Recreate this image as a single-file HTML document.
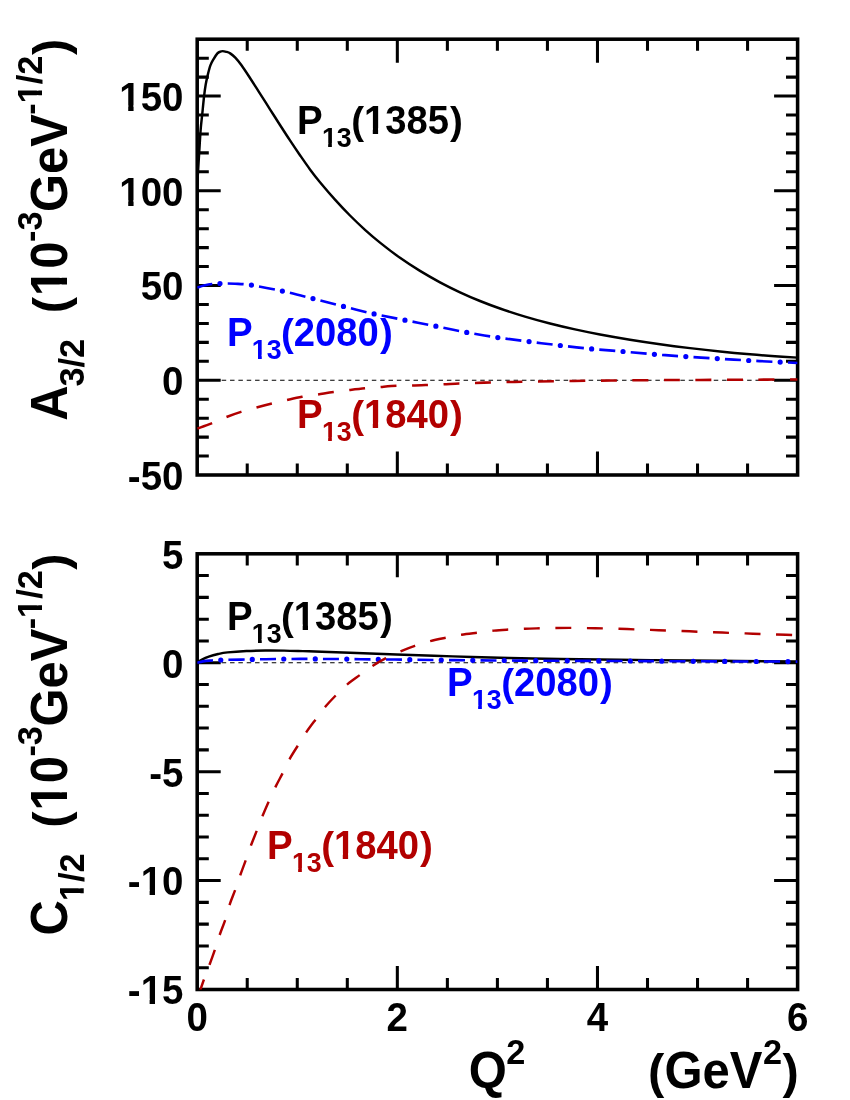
<!DOCTYPE html>
<html lang="en"><head><meta charset="utf-8"><title>Helicity amplitudes</title>
<style>html,body{margin:0;padding:0;background:#fff}svg{display:block;will-change:transform}text{font-family:"Liberation Sans",sans-serif;font-weight:bold}</style></head><body>
<svg width="850" height="1100" viewBox="0 0 850 1100">
<rect width="850" height="1100" fill="#fff"/>
<defs>
<clipPath id="cu"><rect x="197.2" y="39.2" width="600.4" height="435.8"/></clipPath>
<clipPath id="cl"><rect x="197.2" y="553.8" width="600.4" height="435.7"/></clipPath>
<clipPath id="c1"><path d="M-60,-800H620V-142H371.6V10H232.4V-142H-60Z"/></clipPath>
</defs>
<!-- upper panel -->
<g stroke="#000" fill="none">
<path d="M247.23,475V463.4M247.23,39.2V50.8M297.27,475V463.4M297.27,39.2V50.8M347.3,475V463.4M347.3,39.2V50.8M397.33,475V451.5M397.33,39.2V62.7M447.37,475V463.4M447.37,39.2V50.8M497.4,475V463.4M497.4,39.2V50.8M547.43,475V463.4M547.43,39.2V50.8M597.47,475V451.5M597.47,39.2V62.7M647.5,475V463.4M647.5,39.2V50.8M697.53,475V463.4M697.53,39.2V50.8M747.57,475V463.4M747.57,39.2V50.8M197.2,456.05H208.8M797.6,456.05H786M197.2,437.1H208.8M797.6,437.1H786M197.2,418.16H208.8M797.6,418.16H786M197.2,399.21H208.8M797.6,399.21H786M197.2,380.26H220.7M797.6,380.26H774.1M197.2,361.31H208.8M797.6,361.31H786M197.2,342.37H208.8M797.6,342.37H786M197.2,323.42H208.8M797.6,323.42H786M197.2,304.47H208.8M797.6,304.47H786M197.2,285.52H220.7M797.6,285.52H774.1M197.2,266.57H208.8M797.6,266.57H786M197.2,247.63H208.8M797.6,247.63H786M197.2,228.68H208.8M797.6,228.68H786M197.2,209.73H208.8M797.6,209.73H786M197.2,190.78H220.7M797.6,190.78H774.1M197.2,171.83H208.8M797.6,171.83H786M197.2,152.89H208.8M797.6,152.89H786M197.2,133.94H208.8M797.6,133.94H786M197.2,114.99H208.8M797.6,114.99H786M197.2,96.04H220.7M797.6,96.04H774.1M197.2,77.1H208.8M797.6,77.1H786M197.2,58.15H208.8M797.6,58.15H786" stroke-width="3.05"/>
<rect x="197.2" y="39.2" width="600.4" height="435.8" stroke-width="3.55"/>
</g>
<path d="M221.7,380.26H797.6" stroke="#000" stroke-width="1.15" stroke-dasharray="4.5 3.84" fill="none"/>
<g clip-path="url(#cu)" fill="none" stroke-linejoin="round">
<path d="M197.2,185C197.37,182.33 197.85,174.68 198.2,169C198.55,163.32 198.88,157.55 199.3,150.9C199.72,144.25 200.22,135.17 200.7,129.1C201.18,123.03 201.63,120.02 202.2,114.5C202.77,108.98 203.52,101 204.1,96C204.68,91 205.12,87.9 205.7,84.5C206.28,81.1 206.82,78.78 207.6,75.6C208.38,72.42 209.4,68.15 210.4,65.4C211.4,62.65 212.43,61.1 213.6,59.1C214.77,57.1 216.33,54.62 217.4,53.4C218.47,52.18 219.15,52.18 220,51.8C220.85,51.42 221.45,51.1 222.5,51.1C223.55,51.1 225.02,51.42 226.3,51.8C227.58,52.18 228.7,52.43 230.2,53.4C231.7,54.37 233.42,55.62 235.3,57.6C237.18,59.58 239.05,61.9 241.5,65.3C243.95,68.7 246.92,73.28 250,78C253.08,82.72 256.67,88.38 260,93.6C263.33,98.82 266.67,104.07 270,109.3C273.33,114.53 276.67,119.82 280,125C283.33,130.18 286.67,135.37 290,140.4C293.33,145.43 296.67,150.37 300,155.2C303.33,160.03 306.67,164.9 310,169.4C313.33,173.9 315.83,177.17 320,182.2C324.17,187.23 330,194.05 335,199.6C340,205.15 345,210.47 350,215.5C355,220.53 360,225.28 365,229.8C370,234.32 374.17,237.93 380,242.6C385.83,247.27 393.33,253.08 400,257.8C406.67,262.52 413.33,266.82 420,270.9C426.67,274.98 433.33,278.73 440,282.3C446.67,285.87 453.33,289.18 460,292.3C466.67,295.42 473.33,298.3 480,301C486.67,303.7 492.5,305.9 500,308.5C507.5,311.1 516.67,314.1 525,316.6C533.33,319.1 541.67,321.37 550,323.5C558.33,325.63 566.67,327.57 575,329.4C583.33,331.23 590.83,332.78 600,334.5C609.17,336.22 620,338.08 630,339.7C640,341.32 650,342.8 660,344.2C670,345.6 680,346.88 690,348.1C700,349.32 710,350.47 720,351.5C730,352.53 740.83,353.52 750,354.3C759.17,355.08 767.07,355.65 775,356.2C782.93,356.75 793.83,357.37 797.6,357.6" stroke="#000" stroke-width="2.45"/>
<path d="M197.2,287.6C198.33,287.27 201.55,286.2 204,285.6C206.45,285 209.28,284.35 211.9,284C214.52,283.65 215.85,283.55 219.7,283.5C223.55,283.45 229.73,283.43 235,283.7C240.27,283.97 243.42,283.87 251.3,285.1C259.18,286.33 272.05,288.87 282.3,291.1C292.55,293.33 302.63,295.95 312.8,298.5C322.97,301.05 333.1,303.83 343.3,306.4C353.5,308.97 363.75,311.62 374,313.9C384.25,316.18 394.55,318.07 404.8,320.1C415.05,322.13 425.22,324.05 435.5,326.1C445.78,328.15 456.15,330.5 466.5,332.4C476.85,334.3 487.2,335.97 497.6,337.5C508,339.03 518.45,340.27 528.9,341.6C539.35,342.93 549.88,344.28 560.3,345.5C570.72,346.72 580.97,347.9 591.4,348.9C601.83,349.9 612.43,350.6 622.9,351.5C633.37,352.4 643.77,353.45 654.2,354.3C664.63,355.15 675.02,355.88 685.5,356.6C695.98,357.32 706.62,357.95 717.1,358.6C727.58,359.25 737.93,359.92 748.4,360.5C758.87,361.08 771.7,361.68 779.9,362.1C788.1,362.52 794.65,362.85 797.6,363" stroke="#0000ff" stroke-width="2.6" stroke-dasharray="16 15.5" stroke-dashoffset="0.5"/>
<path d="M197.2,287.6C198.33,287.27 201.55,286.2 204,285.6C206.45,285 209.28,284.35 211.9,284C214.52,283.65 215.85,283.55 219.7,283.5C223.55,283.45 229.73,283.43 235,283.7C240.27,283.97 243.42,283.87 251.3,285.1C259.18,286.33 272.05,288.87 282.3,291.1C292.55,293.33 302.63,295.95 312.8,298.5C322.97,301.05 333.1,303.83 343.3,306.4C353.5,308.97 363.75,311.62 374,313.9C384.25,316.18 394.55,318.07 404.8,320.1C415.05,322.13 425.22,324.05 435.5,326.1C445.78,328.15 456.15,330.5 466.5,332.4C476.85,334.3 487.2,335.97 497.6,337.5C508,339.03 518.45,340.27 528.9,341.6C539.35,342.93 549.88,344.28 560.3,345.5C570.72,346.72 580.97,347.9 591.4,348.9C601.83,349.9 612.43,350.6 622.9,351.5C633.37,352.4 643.77,353.45 654.2,354.3C664.63,355.15 675.02,355.88 685.5,356.6C695.98,357.32 706.62,357.95 717.1,358.6C727.58,359.25 737.93,359.92 748.4,360.5C758.87,361.08 771.7,361.68 779.9,362.1C788.1,362.52 794.65,362.85 797.6,363" stroke="#0000ff" stroke-width="5.2" stroke-linecap="round" stroke-dasharray="0 31.5" stroke-dashoffset="-23.3"/>
<path d="M197.2,428.6C199.6,427.73 206.72,425.33 211.6,423.4C216.48,421.47 221.6,418.92 226.5,417C231.4,415.08 236.03,413.47 241,411.9C245.97,410.33 251.15,409 256.3,407.6C261.45,406.2 266.8,404.77 271.9,403.5C277,402.23 281.88,401.12 286.9,400C291.92,398.88 296.82,397.73 302,396.8C307.18,395.87 312.75,395.2 318,394.4C323.25,393.6 328.33,392.72 333.5,392C338.67,391.28 343.75,390.72 349,390.1C354.25,389.48 359.67,388.83 365,388.3C370.33,387.77 375.75,387.32 381,386.9C386.25,386.48 391.33,386.02 396.5,385.8C401.67,385.58 406.75,385.73 412,385.6C417.25,385.47 422.75,385.22 428,385C433.25,384.78 438.33,384.57 443.5,384.3C448.67,384.03 453.7,383.63 459,383.4C464.3,383.17 470.03,383.07 475.3,382.9C480.57,382.73 485.42,382.53 490.6,382.4C495.78,382.27 501.18,382.2 506.4,382.1C511.62,382 516.7,381.9 521.9,381.8C527.1,381.7 532.35,381.6 537.6,381.5C542.85,381.4 548.1,381.28 553.4,381.2C558.7,381.12 564.18,381.07 569.4,381C574.62,380.93 576.27,380.9 584.7,380.8C593.13,380.7 607.45,380.52 620,380.4C632.55,380.28 646.67,380.18 660,380.1C673.33,380.02 685,379.97 700,379.9C715,379.83 733.73,379.77 750,379.7C766.27,379.63 789.67,379.53 797.6,379.5" stroke="#b20000" stroke-width="2.55" stroke-dasharray="15.9 15.6" stroke-dashoffset="0"/>
</g>
<!-- lower panel -->
<g stroke="#000" fill="none">
<path d="M247.23,989.5V977.9M247.23,553.8V565.4M297.27,989.5V977.9M297.27,553.8V565.4M347.3,989.5V977.9M347.3,553.8V565.4M397.33,989.5V966M397.33,553.8V577.3M447.37,989.5V977.9M447.37,553.8V565.4M497.4,989.5V977.9M497.4,553.8V565.4M547.43,989.5V977.9M547.43,553.8V565.4M597.47,989.5V966M597.47,553.8V577.3M647.5,989.5V977.9M647.5,553.8V565.4M697.53,989.5V977.9M697.53,553.8V565.4M747.57,989.5V977.9M747.57,553.8V565.4M197.2,967.72H208.8M797.6,967.72H786M197.2,945.93H208.8M797.6,945.93H786M197.2,924.14H208.8M797.6,924.14H786M197.2,902.36H208.8M797.6,902.36H786M197.2,880.58H220.7M797.6,880.58H774.1M197.2,858.79H208.8M797.6,858.79H786M197.2,837H208.8M797.6,837H786M197.2,815.22H208.8M797.6,815.22H786M197.2,793.43H208.8M797.6,793.43H786M197.2,771.65H220.7M797.6,771.65H774.1M197.2,749.87H208.8M797.6,749.87H786M197.2,728.08H208.8M797.6,728.08H786M197.2,706.29H208.8M797.6,706.29H786M197.2,684.51H208.8M797.6,684.51H786M197.2,662.72H220.7M797.6,662.72H774.1M197.2,640.94H208.8M797.6,640.94H786M197.2,619.15H208.8M797.6,619.15H786M197.2,597.37H208.8M797.6,597.37H786M197.2,575.58H208.8M797.6,575.58H786" stroke-width="3.05"/>
<rect x="197.2" y="553.8" width="600.4" height="435.7" stroke-width="3.55"/>
</g>
<path d="M221.7,662.72H797.6" stroke="#000" stroke-width="1.15" stroke-dasharray="4.5 3.84" fill="none"/>
<g clip-path="url(#cl)" fill="none" stroke-linejoin="round">
<path d="M197.2,662.7C198,662.18 200.07,660.62 202,659.6C203.93,658.58 206.1,657.53 208.8,656.6C211.5,655.67 215.07,654.7 218.2,654C221.33,653.3 222.88,652.9 227.6,652.4C232.32,651.9 240.22,651.32 246.5,651C252.78,650.68 259.03,650.57 265.3,650.5C271.57,650.43 277.83,650.5 284.1,650.6C290.37,650.7 296.62,650.92 302.9,651.1C309.18,651.28 313.95,651.43 321.8,651.7C329.65,651.97 337.55,652.23 350,652.7C362.45,653.17 379.35,653.88 396.5,654.5C413.65,655.12 434.08,655.82 452.9,656.4C471.72,656.98 491.55,657.57 509.4,658C527.25,658.43 541.57,658.7 560,659C578.43,659.3 598.33,659.55 620,659.8C641.67,660.05 670,660.3 690,660.5C710,660.7 722.07,660.83 740,661C757.93,661.17 788,661.42 797.6,661.5" stroke="#000" stroke-width="2.45"/>
<path d="M197.2,662.7C198.17,662.48 200.87,661.75 203,661.4C205.13,661.05 207.05,660.83 210,660.6C212.95,660.37 213.68,660.2 220.7,660C227.72,659.8 241.62,659.57 252.1,659.4C262.58,659.23 273.15,659.08 283.6,659C294.05,658.92 304.37,658.88 314.8,658.9C325.23,658.92 335.65,659.02 346.2,659.1C356.75,659.18 367.6,659.3 378.1,659.4C388.6,659.5 398.75,659.6 409.2,659.7C419.65,659.8 430.22,659.9 440.8,660C451.38,660.1 462.2,660.22 472.7,660.3C483.2,660.38 493.45,660.43 503.8,660.5C514.15,660.57 524.37,660.65 534.8,660.7C545.23,660.75 555.83,660.77 566.4,660.8C576.97,660.83 587.6,660.87 598.2,660.9C608.8,660.93 619.5,660.95 630,661C640.5,661.05 650.7,661.15 661.2,661.2C671.7,661.25 682.48,661.27 693,661.3C703.52,661.33 713.85,661.37 724.3,661.4C734.75,661.43 743.48,661.47 755.7,661.5C767.92,661.53 790.62,661.58 797.6,661.6" stroke="#0000ff" stroke-width="2.6" stroke-dasharray="16 15.5" stroke-dashoffset="0"/>
<path d="M197.2,662.7C198.17,662.48 200.87,661.75 203,661.4C205.13,661.05 207.05,660.83 210,660.6C212.95,660.37 213.68,660.2 220.7,660C227.72,659.8 241.62,659.57 252.1,659.4C262.58,659.23 273.15,659.08 283.6,659C294.05,658.92 304.37,658.88 314.8,658.9C325.23,658.92 335.65,659.02 346.2,659.1C356.75,659.18 367.6,659.3 378.1,659.4C388.6,659.5 398.75,659.6 409.2,659.7C419.65,659.8 430.22,659.9 440.8,660C451.38,660.1 462.2,660.22 472.7,660.3C483.2,660.38 493.45,660.43 503.8,660.5C514.15,660.57 524.37,660.65 534.8,660.7C545.23,660.75 555.83,660.77 566.4,660.8C576.97,660.83 587.6,660.87 598.2,660.9C608.8,660.93 619.5,660.95 630,661C640.5,661.05 650.7,661.15 661.2,661.2C671.7,661.25 682.48,661.27 693,661.3C703.52,661.33 713.85,661.37 724.3,661.4C734.75,661.43 743.48,661.47 755.7,661.5C767.92,661.53 790.62,661.58 797.6,661.6" stroke="#0000ff" stroke-width="5.2" stroke-linecap="round" stroke-dasharray="0 31.5" stroke-dashoffset="-23.8"/>
<path d="M196.3,1001.7C196.72,1000.5 197.52,998.23 198.8,994.5C200.08,990.77 202.2,984.3 204,979.3C205.8,974.3 207.75,969.53 209.6,964.5C211.45,959.47 213.37,954.18 215.1,949.1C216.83,944.02 218.27,939 220,934C221.73,929 223.83,924.17 225.5,919.1C227.17,914.03 228.33,908.6 230,903.6C231.67,898.6 233.75,893.95 235.5,889.1C237.25,884.25 238.75,879.42 240.5,874.5C242.25,869.58 244.2,864.6 246,859.6C247.8,854.6 249.48,849.37 251.3,844.5C253.12,839.63 254.98,835.27 256.9,830.4C258.82,825.53 260.8,820.18 262.8,815.3C264.8,810.42 266.7,806 268.9,801.1C271.1,796.2 273.67,790.63 276,785.9C278.33,781.17 280.55,777.32 282.9,772.7C285.25,768.08 287.58,762.75 290.1,758.2C292.62,753.65 295.27,749.78 298,745.4C300.73,741.02 303.52,736.28 306.5,731.9C309.48,727.52 312.7,723.37 315.9,719.1C319.1,714.83 322.32,710.32 325.7,706.3C329.08,702.28 332.55,698.7 336.2,695C339.85,691.3 343.63,687.45 347.6,684.1C351.57,680.75 355.72,678.02 360,674.9C364.28,671.78 369.05,668.17 373.3,665.4C377.55,662.63 380.75,660.72 385.5,658.3C390.25,655.88 396.92,652.97 401.8,650.9C406.68,648.83 410.05,647.53 414.8,645.9C419.55,644.27 425.12,642.47 430.3,641.1C435.48,639.73 440.72,638.75 445.9,637.7C451.08,636.65 456,635.65 461.4,634.8C466.8,633.95 472.88,633.3 478.3,632.6C483.72,631.9 488.72,631.12 493.9,630.6C499.08,630.08 504.23,629.82 509.4,629.5C514.57,629.18 519.72,628.9 524.9,628.7C530.08,628.5 535.32,628.42 540.5,628.3C545.68,628.18 550.78,628.07 556,628C561.22,627.93 566.57,627.88 571.8,627.9C577.03,627.92 582.17,628.02 587.4,628.1C592.63,628.18 597.97,628.28 603.2,628.4C608.43,628.52 613.5,628.63 618.8,628.8C624.1,628.97 629.7,629.22 635,629.4C640.3,629.58 645.35,629.72 650.6,629.9C655.85,630.08 661.25,630.32 666.5,630.5C671.75,630.68 676.82,630.8 682.1,631C687.38,631.2 692.97,631.5 698.2,631.7C703.43,631.9 708.25,632 713.5,632.2C718.75,632.4 724.4,632.7 729.7,632.9C735,633.1 740,633.22 745.3,633.4C750.6,633.58 756.25,633.82 761.5,634C766.75,634.18 770.78,634.3 776.8,634.5C782.82,634.7 794.13,635.08 797.6,635.2" stroke="#b20000" stroke-width="2.45" stroke-dasharray="15.9 15.65" stroke-dashoffset="23.95"/>
</g>
<g fill="#000">
<g transform="translate(183.5 110.94) scale(0.03850 0.04016)" font-size="1000"><text transform="translate(-1668.45 0)" clip-path="url(#c1)">1</text><text x="-1112.3">50</text></g>
<g transform="translate(183.5 205.68) scale(0.03850 0.04016)" font-size="1000"><text transform="translate(-1668.45 0)" clip-path="url(#c1)">1</text><text x="-1112.3">00</text></g>
<text transform="translate(183.5 300.42) scale(0.9588 1)" font-size="40.16" text-anchor="end">50</text>
<text transform="translate(183.5 395.16) scale(0.9588 1)" font-size="40.16" text-anchor="end">0</text>
<text transform="translate(183.5 489.9) scale(0.9588 1)" font-size="40.16" text-anchor="end">-50</text>
<text transform="translate(183.5 568.7) scale(0.9588 1)" font-size="40.16" text-anchor="end">5</text>
<text transform="translate(183.5 677.62) scale(0.9588 1)" font-size="40.16" text-anchor="end">0</text>
<text transform="translate(183.5 786.55) scale(0.9588 1)" font-size="40.16" text-anchor="end">-5</text>
<g transform="translate(183.5 895.48) scale(0.03850 0.04016)" font-size="1000"><text x="-1445.3">-</text><text transform="translate(-1112.3 0)" clip-path="url(#c1)">1</text><text x="-556.15">0</text></g>
<g transform="translate(183.5 1004.4) scale(0.03850 0.04016)" font-size="1000"><text x="-1445.3">-</text><text transform="translate(-1112.3 0)" clip-path="url(#c1)">1</text><text x="-556.15">5</text></g>
<text transform="translate(197.2 1031.2) scale(0.9588 1)" font-size="40.16" text-anchor="middle">0</text>
<text transform="translate(397.33 1031.2) scale(0.9588 1)" font-size="40.16" text-anchor="middle">2</text>
<text transform="translate(597.47 1031.2) scale(0.9588 1)" font-size="40.16" text-anchor="middle">4</text>
<text transform="translate(797.6 1031.2) scale(0.9588 1)" font-size="40.16" text-anchor="middle">6</text>
<g fill="#000">
<text transform="translate(297 134) scale(0.9588 1)" font-size="40.16">P</text>
<g transform="translate(321.9 146.9) scale(0.02680 0.02795)" font-size="1000"><text transform="translate(0 0)" clip-path="url(#c1)">1</text><text x="556.15">3</text></g>
<text x="351.2" y="134" font-size="38.5">(</text>
<g transform="translate(363.9 134) scale(0.03823 0.04016)" font-size="1000"><text transform="translate(0 0)" clip-path="url(#c1)">1</text><text x="556.15">385</text></g>
<text x="450" y="134" font-size="38.5">)</text>
</g>
<g fill="#0000ff">
<text transform="translate(226.9 345.9) scale(0.9588 1)" font-size="40.16">P</text>
<g transform="translate(251.8 358.8) scale(0.02680 0.02795)" font-size="1000"><text transform="translate(0 0)" clip-path="url(#c1)">1</text><text x="556.15">3</text></g>
<text x="281.1" y="345.9" font-size="38.5">(</text>
<text transform="translate(293.8 345.9) scale(0.952 1)" font-size="40.16">2080</text>
<text x="379.9" y="345.9" font-size="38.5">)</text>
</g>
<g fill="#b20000">
<text transform="translate(297 428.1) scale(0.9588 1)" font-size="40.16">P</text>
<g transform="translate(321.9 441) scale(0.02680 0.02795)" font-size="1000"><text transform="translate(0 0)" clip-path="url(#c1)">1</text><text x="556.15">3</text></g>
<text x="351.2" y="428.1" font-size="38.5">(</text>
<g transform="translate(363.9 428.1) scale(0.03823 0.04016)" font-size="1000"><text transform="translate(0 0)" clip-path="url(#c1)">1</text><text x="556.15">840</text></g>
<text x="450" y="428.1" font-size="38.5">)</text>
</g>
<g fill="#000">
<text transform="translate(226.9 630.1) scale(0.9588 1)" font-size="40.16">P</text>
<g transform="translate(251.8 643) scale(0.02680 0.02795)" font-size="1000"><text transform="translate(0 0)" clip-path="url(#c1)">1</text><text x="556.15">3</text></g>
<text x="281.1" y="630.1" font-size="38.5">(</text>
<g transform="translate(293.8 630.1) scale(0.03823 0.04016)" font-size="1000"><text transform="translate(0 0)" clip-path="url(#c1)">1</text><text x="556.15">385</text></g>
<text x="379.9" y="630.1" font-size="38.5">)</text>
</g>
<g fill="#0000ff">
<text transform="translate(447 695.7) scale(0.9588 1)" font-size="40.16">P</text>
<g transform="translate(471.9 708.6) scale(0.02680 0.02795)" font-size="1000"><text transform="translate(0 0)" clip-path="url(#c1)">1</text><text x="556.15">3</text></g>
<text x="501.2" y="695.7" font-size="38.5">(</text>
<text transform="translate(513.9 695.7) scale(0.952 1)" font-size="40.16">2080</text>
<text x="600" y="695.7" font-size="38.5">)</text>
</g>
<g fill="#b20000">
<text transform="translate(267 859) scale(0.9588 1)" font-size="40.16">P</text>
<g transform="translate(291.9 871.9) scale(0.02680 0.02795)" font-size="1000"><text transform="translate(0 0)" clip-path="url(#c1)">1</text><text x="556.15">3</text></g>
<text x="321.2" y="859" font-size="38.5">(</text>
<g transform="translate(333.9 859) scale(0.03823 0.04016)" font-size="1000"><text transform="translate(0 0)" clip-path="url(#c1)">1</text><text x="556.15">840</text></g>
<text x="420" y="859" font-size="38.5">)</text>
</g>
</g>
<g transform="translate(66.9 420.8) rotate(-90)">
<text transform="translate(0 0) scale(0.9588 1)" font-size="51.11">A</text>
<text transform="translate(34.3 16.6) scale(0.9588 1)" font-size="35.77">3/2</text>
<text x="107.6" y="-0.4" font-size="49">(</text>
<g transform="translate(124.9 0) scale(0.04900 0.05111)" font-size="1000"><text transform="translate(0 0)" clip-path="url(#c1)">1</text><text x="556.15">0</text></g>
<text transform="translate(178.8 -25) scale(0.9588 1)" font-size="35.77">-3</text>
<text transform="translate(208.8 0) scale(0.9588 1)" font-size="51.11">GeV</text>
<g transform="translate(306.1 -25) scale(0.03430 0.03577)" font-size="1000"><text x="0">-</text><text transform="translate(333 0)" clip-path="url(#c1)">1</text><text x="889.15">/2</text></g>
<text x="365.75" y="-0.4" font-size="49">)</text>
</g>
<g transform="translate(66.9 935.4) rotate(-90)">
<text transform="translate(0 0) scale(0.9588 1)" font-size="51.11">C</text>
<g transform="translate(34.3 16.6) scale(0.03430 0.03577)" font-size="1000"><text transform="translate(0 0)" clip-path="url(#c1)">1</text><text x="556.15">/2</text></g>
<text x="107.6" y="-0.4" font-size="49">(</text>
<g transform="translate(124.9 0) scale(0.04900 0.05111)" font-size="1000"><text transform="translate(0 0)" clip-path="url(#c1)">1</text><text x="556.15">0</text></g>
<text transform="translate(178.8 -25) scale(0.9588 1)" font-size="35.77">-3</text>
<text transform="translate(208.8 0) scale(0.9588 1)" font-size="51.11">GeV</text>
<g transform="translate(306.1 -25) scale(0.03430 0.03577)" font-size="1000"><text x="0">-</text><text transform="translate(333 0)" clip-path="url(#c1)">1</text><text x="889.15">/2</text></g>
<text x="365.75" y="-0.4" font-size="49">)</text>
</g>
<g fill="#000">
<text transform="translate(468.8 1088) scale(0.9588 1)" font-size="51.11">Q</text>
<text transform="translate(506.3 1064) scale(0.9588 1)" font-size="35.77">2</text>
<text x="648" y="1087.7" font-size="49">(</text>
<text transform="translate(664.5 1088) scale(0.9588 1)" font-size="51.11">GeV</text>
<text transform="translate(762.9 1064) scale(0.9588 1)" font-size="35.77">2</text>
<text x="782.4" y="1087.7" font-size="49">)</text>
</g>
</svg></body></html>
